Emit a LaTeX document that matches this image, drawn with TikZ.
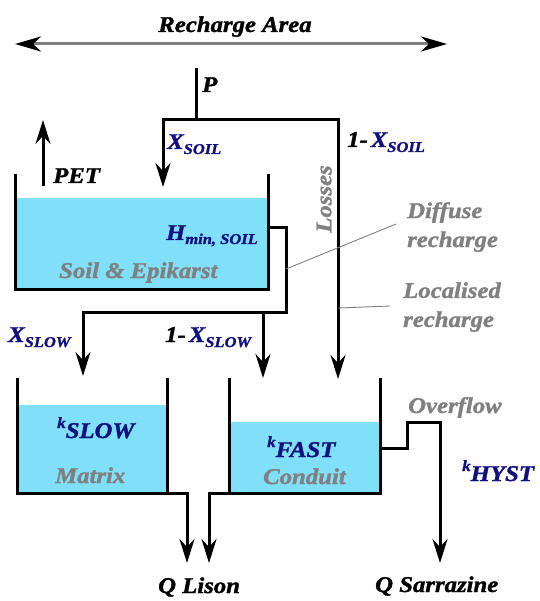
\documentclass[tikz,border=0pt]{standalone}
\usepackage{fontspec}
\setmainfont{Liberation Serif}
\newfontfamily\cimfont[FakeStretch=1.1, FakeBold=1.5]{Liberation Serif}
\usepackage{tikz}
\usetikzlibrary{arrows.meta}

\definecolor{viz}{RGB}{128,224,250}
\definecolor{sotetkek}{RGB}{16,16,128}
\definecolor{szurke}{RGB}{128,128,128}

\newcommand{\idx}[2][5pt]{\raisebox{-#1}{\fontsize{15}{16}\selectfont #2}}
\newcommand{\kfel}[2][10pt]{\raisebox{#1}{\fontsize{15.5}{16}\selectfont k}#2}

\tikzset{
	felirat/.style={font=\cimfont\bfseries\itshape\fontsize{22.5}{29}\selectfont, inner sep=0pt},
	kek/.style={text=sotetkek},
	halvany/.style={text=szurke},
	fal/.style={line width=3pt},
	nyil/.style={line width=3pt, -{Stealth[length=24pt,width=15pt,inset=8pt]}},
	vezeto/.style={draw=szurke, line width=0.9pt}
}

\begin{document}
\begin{tikzpicture}[x=1pt, y=-1pt]
				\useasboundingbox (0,0) rectangle (539,601);
				
				% pontok
				\coordinate (bal) at (15,44);
				\coordinate (jobb) at (447,44);
				\coordinate (csapfent) at (196,68);
				\coordinate (eloszto) at (196,120);
				\coordinate (talajbe) at (163,187);
				\coordinate (vesztbe) at (338,379);
				\coordinate (petlent) at (43,186);
				\coordinate (petfent) at (43,120);
				\coordinate (talajki) at (268,228);
				\coordinate (elag) at (286,312);
				\coordinate (lassube) at (83,376);
				\coordinate (gyorselag) at (263,312);
				\coordinate (gyorsbe) at (263,378);
				\coordinate (lassuki) at (167,493);
				\coordinate (lison1) at (187,563);
				\coordinate (gyorski) at (229,493);
				\coordinate (lison2) at (209,563);
				\coordinate (tulfolyo) at (380,448);
				\coordinate (lepcso) at (407,422);
				\coordinate (sarr) at (440,563);
				
				% tartályok
				\fill[viz] (15,198) rectangle (268,289);
				\draw[fal] (15,174) -- (15,289) -- (268,289) -- (268,174);
				\fill[viz] (17,405) rectangle (167,493);
				\draw[fal] (17,378) -- (17,493) -- (167,493) -- (167,378);
				\fill[viz] (229,422) rectangle (380,493);
				\draw[fal] (229,378) -- (229,493) -- (380,493) -- (380,378);
				
				% nyilak
				\draw[szurke, line width=3pt, {Stealth[length=26pt,width=15pt,inset=8pt,black]}-{Stealth[length=26pt,width=15pt,inset=8pt,black]}] (bal) -- (jobb);
				\draw[fal] (csapfent) -- (eloszto);
				\draw[nyil] (eloszto) -| (talajbe);
				\draw[nyil] (eloszto) -| (vesztbe);
				\draw[nyil] (petlent) -- (petfent);
				\draw[nyil] (talajki) -| (elag) -| (lassube);
				\draw[nyil] (gyorselag) -- (gyorsbe);
				\draw[nyil] (lassuki) -| (lison1);
				\draw[nyil] (gyorski) -| (lison2);
				\draw[nyil] (tulfolyo) -| (lepcso) -| (sarr);
				
				% feliratok
				\node[felirat, anchor=base] (terulet) at (235,32) {Recharge Area};
				\node[felirat, anchor=base west] (csap) at (202,92) {P};
				\node[felirat, anchor=base west] (pet) at (53,183) {PET};
				\node[felirat, kek, anchor=base west] (xsoil) at (167,149) {X\idx{SOIL}};
				\node[felirat, anchor=base west] (egyxsoil) at (347,147) {1-\hspace{3pt}\textcolor{sotetkek}{X\idx{SOIL}}};
				\node[felirat, halvany, rotate=90] (veszt) at (324,199) {Losses};
				\node[felirat, kek, anchor=base east] (hmin) at (258,240) {H\idx[4pt]{min, SOIL}};
				\node[felirat, halvany, anchor=base west] (talaj) at (59,278) {Soil \& Epikarst};
				\node[felirat, halvany, align=left, anchor=west] (diffuz) at (407,227) {Diffuse\\recharge};
				\node[felirat, halvany, align=left, anchor=west] (lokalis) at (403,307) {Localised\\recharge};
				\node[felirat, kek, anchor=base west] (xslow) at (8,342) {X\idx{SLOW}};
				\node[felirat, anchor=base west] (egyxslow) at (165,342) {1-\hspace{3pt}\textcolor{sotetkek}{X\idx{SLOW}}};
				\node[felirat, kek, anchor=base west] (kslow) at (57,438) {\kfel{SLOW}};
				\node[felirat, halvany, anchor=base west] (matrix) at (55,483) {Matrix};
				\node[felirat, kek, anchor=base west] (kfast) at (267,457) {\kfel{FAST}};
				\node[felirat, halvany, anchor=base west] (conduit) at (263,484) {Conduit};
				\node[felirat, halvany, anchor=base west] (tulfolyas) at (408,413) {Overflow};
				\node[felirat, kek, anchor=base west] (khyst) at (462,481) {\kfel{HYST}};
				\node[felirat, anchor=base west] (lison) at (158,593) {Q Lison};
				\node[felirat, anchor=base west] (sarrazine) at (375,592) {Q Sarrazine};
				
				% vezetővonalak
				\draw[vezeto] (286,269) -- (396,224);
				\draw[vezeto] (338,308) -- (390,306);
				
			\end{tikzpicture}
\end{document}
